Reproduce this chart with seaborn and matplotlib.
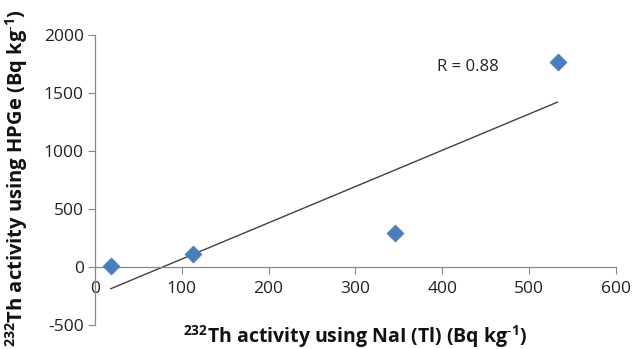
import matplotlib
matplotlib.use("Agg")
import matplotlib.pyplot as plt
import seaborn as sns
import pandas as pd

nai = [18, 113, 345, 533]
hpge = [5, 115, 292, 1765]
x_ticks = [0, 100, 200, 300, 400, 500, 600]
y_ticks = [-500, 0, 500, 1000, 1500, 2000]
r_label = "R = 0.88"

sns.set_style("white")
plt.rcParams["font.family"] = ["Open Sans", "DejaVu Sans"]
plt.rcParams["mathtext.fontset"] = "custom"
plt.rcParams["mathtext.rm"] = "Open Sans"
plt.rcParams["mathtext.bf"] = "Open Sans:bold"
plt.rcParams["axes.unicode_minus"] = False

df = pd.DataFrame({"nai": nai, "hpge": hpge})

fig = plt.figure(figsize=(6.33, 3.49), dpi=100)
ax = fig.add_axes([0.150, 0.0688, 0.823, 0.831])

sns.regplot(data=df, x="nai", y="hpge", ax=ax, ci=None, truncate=True,
            marker="D",
            scatter_kws=dict(s=75, color="#4a7ebb", edgecolor="#4a7ebb", alpha=1,
                             linewidths=0.5, zorder=3),
            line_kws=dict(color="#404040", linewidth=1.0, zorder=2))

ax.set_xlim(0, 600)
ax.set_ylim(-500, 2000)
ax.set_xticks(x_ticks)
ax.set_yticks(y_ticks)
ax.tick_params(axis="both", labelsize=12.5, colors="#222222", length=5, direction="out",
               width=0.8)
ax.tick_params(axis="x", bottom=True, color="#888888", pad=5)
ax.tick_params(axis="y", left=True, color="#888888", pad=3)

for s in ["top", "right"]:
    ax.spines[s].set_visible(False)
ax.spines["bottom"].set_position(("data", 0))
for s in ["left", "bottom"]:
    ax.spines[s].set_color("#888888")
    ax.spines[s].set_linewidth(0.9)

ax.set_xlabel("")
ax.set_ylabel("")
sup232 = r"$\mathbf{^{232}}$"
supm1 = r"$\mathbf{^{\text{-}1}}$"
fig.text(0.561, 0.035, sup232 + "Th activity using NaI (Tl) (Bq kg" + supm1 + ")",
         ha="center", va="center", fontsize=14, fontweight="bold", color="#111111")
fig.text(0.026, 0.49, sup232 + "Th activity using HPGe (Bq kg" + supm1 + ")",
         ha="center", va="center", rotation=90, fontsize=14.5, fontweight="bold",
         color="#111111")

ax.text(394, 1720, r_label, ha="left", va="center", fontsize=12, color="#222222")

fig.savefig("out.png", dpi=100)
